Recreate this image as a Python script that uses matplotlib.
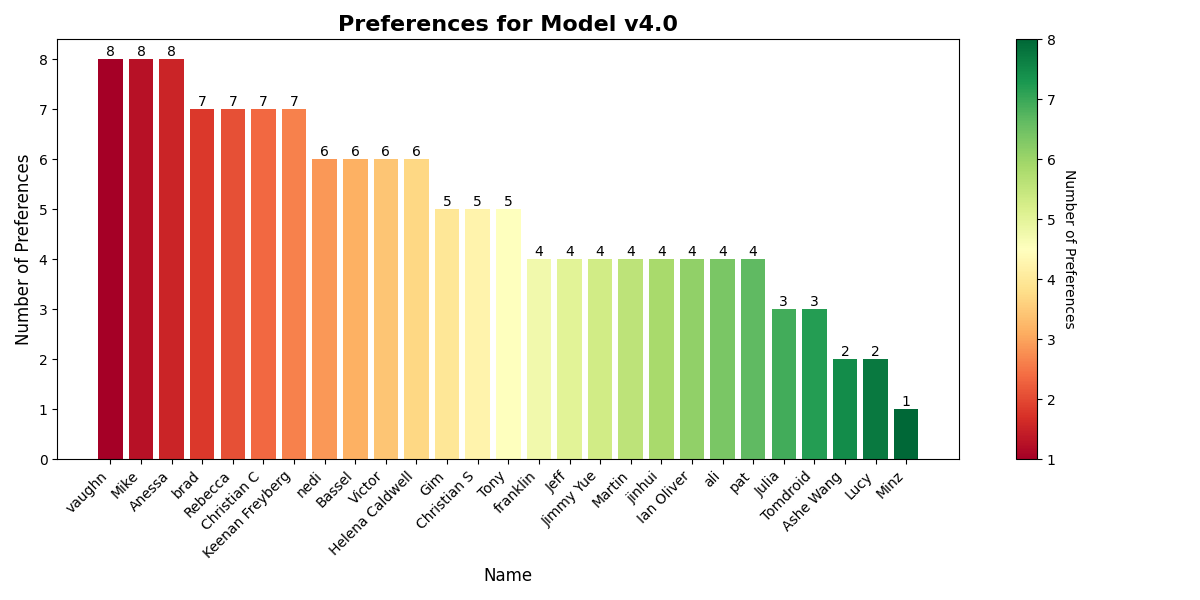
import matplotlib
matplotlib.use("Agg")
import matplotlib.pyplot as plt
import numpy as np

names = ["vaughn", "Mike", "Anessa", "brad", "Rebecca", "Christian C",
         "Keenan Freyberg", "nedi", "Bassel", "Victor", "Helena Caldwell",
         "Gim", "Christian S", "Tony", "franklin", "Jeff", "Jimmy Yue",
         "Martin", "jinhui", "Ian Oliver", "ali", "pat", "Julia",
         "Tomdroid", "Ashe Wang", "Lucy", "Minz"]
counts = [8, 8, 8, 7, 7, 7, 7, 6, 6, 6, 6, 5, 5, 5, 4, 4, 4, 4, 4, 4, 4, 4,
          3, 3, 2, 2, 1]

fig, ax = plt.subplots(figsize=(12, 6), dpi=100)

# colores segun la posicion de la barra
colors = plt.cm.RdYlGn(np.linspace(0, 1, len(names)))
bars = ax.bar(names, counts, color=colors)

for b, v in zip(bars, counts):
    ax.text(b.get_x() + b.get_width() / 2, b.get_height(), str(v),
            ha="center", va="bottom", fontsize=10)

ax.set_title("Preferences for Model v4.0", fontsize=16, fontweight="bold")
ax.set_xlabel("Name", fontsize=12)
ax.set_ylabel("Number of Preferences", fontsize=12)
plt.setp(ax.get_xticklabels(), rotation=45, ha="right")

sm = plt.cm.ScalarMappable(cmap="RdYlGn",
                           norm=plt.Normalize(vmin=min(counts), vmax=max(counts)))
sm.set_array([])
cbar = fig.colorbar(sm, ax=ax)
cbar.set_label("Number of Preferences", rotation=270, labelpad=15)

plt.tight_layout()
plt.savefig("out.png")
